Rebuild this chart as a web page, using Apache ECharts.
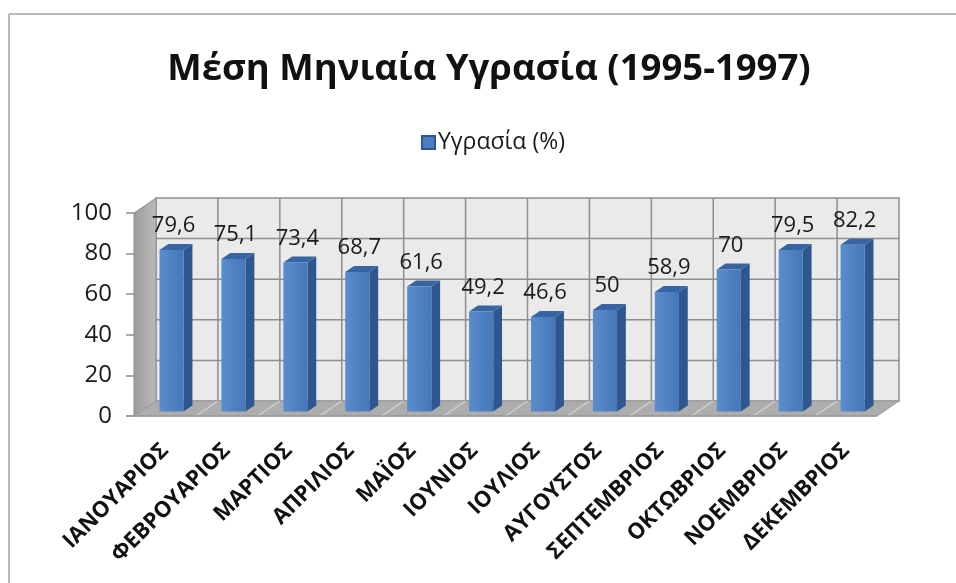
<!DOCTYPE html>
<html>
<head>
<meta charset="utf-8">
<script src="https://cdn.jsdelivr.net/npm/echarts@6/dist/echarts.min.js"></script>
<style>
  html, body { margin: 0; padding: 0; background: #ffffff; overflow: hidden; }
  #chart { width: 956px; height: 583px; }
</style>
</head>
<body>
<div id="chart"></div>
<script>
// Monthly mean humidity, 1995-1997
const months = ['ΙΑΝΟΥΑΡΙΟΣ', 'ΦΕΒΡΟΥΑΡΙΟΣ', 'ΜΑΡΤΙΟΣ', 'ΑΠΡΙΛΙΟΣ', 'ΜΑΪΟΣ', 'ΙΟΥΝΙΟΣ',
                'ΙΟΥΛΙΟΣ', 'ΑΥΓΟΥΣΤΟΣ', 'ΣΕΠΤΕΜΒΡΙΟΣ', 'ΟΚΤΩΒΡΙΟΣ', 'ΝΟΕΜΒΡΙΟΣ', 'ΔΕΚΕΜΒΡΙΟΣ'];
const humidity = [79.6, 75.1, 73.4, 68.7, 61.6, 49.2, 46.6, 50, 58.9, 70, 79.5, 82.2];
const yTicks = [0, 20, 40, 60, 80, 100];
const seriesName = 'Υγρασία (%)';
const titleText = 'Μέση Μηνιαία Υγρασία (1995-1997)';

// depth vector of the 3D box (pixels) and bar placement inside it
const DEPTH = [22, -15];
const BAR_T0 = 0.3, BAR_T1 = 0.7, BAR_W = 0.39;
const FONT = '"Open Sans", "DejaVu Sans", sans-serif';

const chart = echarts.init(document.getElementById('chart'));

function fmt(v) { return String(v).replace('.', ','); }

// walls, floor and gridlines of the 3D box
function renderBox(params, api) {
  const bw = api.size([1, 0])[0];
  const n = months.length;
  const front = (k, v) => {
    const c = api.coord([0, v]);
    return [c[0] - bw / 2 + k * bw, c[1]];
  };
  const back = (k, v) => {
    const p = front(k, v);
    return [p[0] + DEPTH[0], p[1] + DEPTH[1]];
  };
  const top = yTicks[yTicks.length - 1];
  const children = [];
  // back wall
  children.push({ type: 'polygon', shape: { points: [back(0, 0), back(n, 0), back(n, top), back(0, top)] },
    style: { fill: '#eaeaea', stroke: '#8e8e8e', lineWidth: 1.5 } });
  // left wall
  children.push({ type: 'polygon', shape: { points: [front(0, 0), back(0, 0), back(0, top), front(0, top)] },
    style: { fill: new echarts.graphic.LinearGradient(0, 0, 1, 0, [
      { offset: 0, color: '#9b9b9b' }, { offset: 1, color: '#bababa' }]), stroke: '#8e8e8e', lineWidth: 1 } });
  // floor
  children.push({ type: 'polygon', shape: { points: [front(0, 0), front(n, 0), back(n, 0), back(0, 0)] },
    style: { fill: '#adadad', stroke: '#9a9a9a', lineWidth: 1 } });
  // horizontal gridlines on the back wall
  yTicks.slice(1, -1).forEach(v => {
    children.push({ type: 'line', shape: { x1: back(0, v)[0], y1: back(0, v)[1], x2: back(n, v)[0], y2: back(n, v)[1] },
      style: { stroke: '#8e8e8e', lineWidth: 1.5 } });
  });
  // category separators on the back wall and the floor
  for (let k = 1; k < n; k++) {
    children.push({ type: 'line', shape: { x1: back(k, 0)[0], y1: back(k, 0)[1], x2: back(k, top)[0], y2: back(k, top)[1] },
      style: { stroke: '#8e8e8e', lineWidth: 1.5 } });
    children.push({ type: 'line', shape: { x1: front(k, 0)[0], y1: front(k, 0)[1], x2: back(k, 0)[0], y2: back(k, 0)[1] },
      style: { stroke: '#d2d2d2', lineWidth: 1.2 } });
  }
  // front edge of the floor
  children.push({ type: 'line', shape: { x1: front(0, 0)[0] - 7, y1: front(0, 0)[1], x2: front(n, 0)[0], y2: front(n, 0)[1] },
    style: { stroke: '#9a9a9a', lineWidth: 1.5 } });
  return { type: 'group', children: children };
}

// one 3D column per month
function renderBar(params, api) {
  const idx = api.value(0);
  const val = api.value(1);
  const bw = api.size([1, 0])[0];
  const c = api.coord([idx, val]);
  const c0 = api.coord([idx, 0]);
  const w = bw * BAR_W;
  const cx = c[0] + BAR_T0 * DEPTH[0];
  const x1 = cx - w / 2, x2 = cx + w / 2;
  const yTop = c[1] + BAR_T0 * DEPTH[1];
  const yBot = c0[1] + BAR_T0 * DEPTH[1];
  const dx = (BAR_T1 - BAR_T0) * DEPTH[0], dy = (BAR_T1 - BAR_T0) * DEPTH[1];
  return {
    type: 'group',
    children: [
      { type: 'polygon', shape: { points: [[x2, yTop], [x2 + dx, yTop + dy], [x2 + dx, yBot + dy], [x2, yBot]] },
        style: { fill: '#2d578e' } },
      { type: 'polygon', shape: { points: [[x1, yTop], [x2, yTop], [x2 + dx, yTop + dy], [x1 + dx, yTop + dy]] },
        style: { fill: '#3765a3' } },
      { type: 'rect', shape: { x: x1, y: yTop, width: w, height: yBot - yTop },
        style: { fill: new echarts.graphic.LinearGradient(0, 0, 1, 0, [
          { offset: 0, color: '#5a8dcd' }, { offset: 1, color: '#4677b9' }]) } },
      { type: 'text', style: { text: fmt(val), x: cx + 2, y: yTop - 13, align: 'center', verticalAlign: 'bottom',
        fontSize: 22, fontFamily: FONT, fill: '#1a1a1a' } }
    ]
  };
}

chart.setOption({
  animation: false,
  backgroundColor: '#ffffff',
  graphic: [
    // outer frame: left and top edges
    { type: 'line', shape: { x1: 9, y1: 14, x2: 9, y2: 600 },
      style: { stroke: '#a3a3a3', lineWidth: 1.5 }, silent: true, z: -10 },
    { type: 'line', shape: { x1: 9, y1: 14, x2: 1000, y2: 14 },
      style: { stroke: '#a3a3a3', lineWidth: 1.5 }, silent: true, z: -10 }
  ],
  title: {
    text: titleText,
    left: 484, textAlign: 'center', top: 46,
    textStyle: { fontSize: 36.5, fontWeight: 'bold', fontFamily: FONT, color: '#111111' }
  },
  legend: {
    data: [{ name: seriesName, icon: 'rect' }],
    left: 416, top: 126,
    itemWidth: 13, itemHeight: 13, itemGap: 6,
    textStyle: { fontSize: 23, fontFamily: FONT, color: '#1a1a1a', padding: [0, 0, 0, -2] }
  },
  grid: { left: 134, right: 79, top: 213, bottom: 167 },
  xAxis: {
    type: 'category',
    data: months,
    axisLine: { show: false },
    axisTick: { show: false },
    axisLabel: { rotate: 45, margin: 31, interval: 0, fontSize: 22, fontWeight: 'bold', fontFamily: FONT, color: '#111111' }
  },
  yAxis: {
    type: 'value', min: 0, max: 100, interval: 20,
    axisLine: { show: false },
    axisTick: { show: true, length: 8, lineStyle: { color: '#8e8e8e', width: 1.5 } },
    splitLine: { show: false },
    axisLabel: { margin: 22, fontSize: 24, fontFamily: FONT, color: '#1a1a1a' }
  },
  series: [
    {
      type: 'custom', name: 'box', silent: true, z: 1,
      renderItem: renderBox,
      data: [[0, 0]]
    },
    {
      type: 'custom', name: seriesName, z: 2,
      itemStyle: { color: '#4a7ebf', borderColor: '#2d578e', borderWidth: 1 },
      renderItem: renderBar,
      encode: { x: 0, y: 1 },
      data: humidity.map((v, i) => [i, v])
    }
  ]
});
</script>
</body>
</html>
